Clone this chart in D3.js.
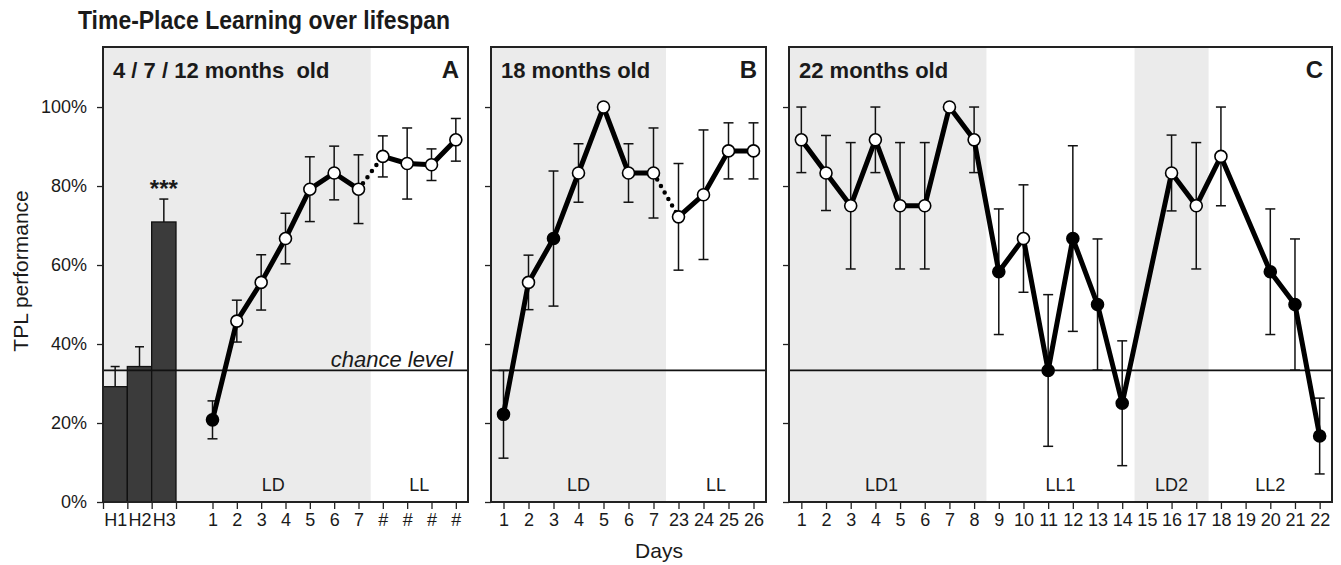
<html>
<head>
    <script src="https://d3js.org/d3.v7.min.js"></script>
    <style>
        body { margin: 0; background: #fff; }
        text { font-family: "Liberation Sans", Arial, sans-serif; fill: #1a1a1a; }
    </style>
</head>

<body>
    <svg id="chart"></svg>

    <script>
        var Width = 1341, Height = 565;

        // panel A: habituation bars
        var hourLabels = ["H1", "H2", "H3"];
        var hourMeans  = [29.2, 34.3, 70.9];
        var hourErr    = [5.1, 5.0, 5.8];

        // panel A: days (4/7/12 months)
        var aDays   = ["1", "2", "3", "4", "5", "6", "7", "#", "#", "#", "#"];
        var aMeans  = [20.8, 45.8, 55.6, 66.7, 79.2, 83.3, 79.2, 87.5, 85.7, 85.4, 91.7];
        var aErr    = [4.8, 5.3, 7.0, 6.4, 8.2, 6.8, 8.7, 5.2, 9.0, 4.0, 5.4];
        var aFilled = [1, 0, 0, 0, 0, 0, 0, 0, 0, 0, 0];

        // panel B: 18 months
        var bDays   = ["1", "2", "3", "4", "5", "6", "7", "23", "24", "25", "26"];
        var bMeans  = [22.2, 55.6, 66.7, 83.3, 100, 83.3, 83.3, 72.2, 77.8, 88.9, 88.9];
        var bErr    = [11.1, 6.9, 17.1, 7.4, 0, 7.4, 11.4, 13.5, 16.4, 7.1, 7.1];
        var bFilled = [1, 0, 1, 0, 0, 0, 0, 0, 0, 0, 0];

        // panel C: 22 months
        var cDays   = ["1","2","3","4","5","6","7","8","9","10","11","12","13","14","15","16","17","18","19","20","21","22"];
        var cMeans  = [91.7, 83.3, 75, 91.7, 75, 75, 100, 91.7, 58.3, 66.7, 33.3, 66.7, 50, 25, null, 83.3, 75, 87.5, null, 58.3, 50, 16.7];
        var cErr    = [8.3, 9.5, 16, 8.3, 16, 16, 0, 8.3, 15.9, 13.6, 19.2, 23.5, 16.6, 15.8, null, 9.6, 16, 12.5, null, 15.9, 16.6, 9.6];
        var cFilled = [0, 0, 0, 0, 0, 0, 0, 0, 1, 0, 1, 1, 1, 1, 0, 0, 0, 0, 0, 1, 1, 1];

        var yTicks = [0, 20, 40, 60, 80, 100];
        var chance = 100 / 3;

        var Top = 47, Bottom = 502;
        var y = d3.scaleLinear().domain([0, 115.2]).range([Bottom, Top]);

        var svg = d3.select("#chart").attr("width", Width).attr("height", Height);

        svg.append("text")
            .attr("x", 78).attr("y", 29)
            .attr("textLength", 372).attr("lengthAdjust", "spacingAndGlyphs")
            .style("font-size", "25px").style("font-weight", "bold")
            .text("Time-Place Learning over lifespan");

        svg.append("text")
            .attr("transform", "translate(28," + y(58.5) + ") rotate(-90)")
            .attr("text-anchor", "middle")
            .style("font-size", "21px")
            .text("TPL performance");

        svg.append("text")
            .attr("x", 659).attr("y", 558)
            .attr("text-anchor", "middle")
            .style("font-size", "21px")
            .text("Days");

        // slot offset: days in panel A start after the 3 bars and a gap
        var panels = [
            { x0: 103, x1: 468, slots: 15, off: 4, days: aDays, means: aMeans, err: aErr, filled: aFilled,
              breakAt: 7, title: "4 / 7 / 12 months  old", letter: "A", yLabels: true,
              phases: [ { name: "LD", from: -0.5, to: 10.5, at: 6.5, shade: true },
                        { name: "LL", from: 10.5, to: 14.5, at: 12.5, shade: false } ] },
            { x0: 491, x1: 766, slots: 11, off: 0, days: bDays, means: bMeans, err: bErr, filled: bFilled,
              breakAt: 7, title: "18 months old", letter: "B", yLabels: false,
              phases: [ { name: "LD", from: -0.5, to: 6.5, at: 3, shade: true },
                        { name: "LL", from: 6.5, to: 10.5, at: 8.5, shade: false } ] },
            { x0: 789, x1: 1332, slots: 22, off: 0, days: cDays, means: cMeans, err: cErr, filled: cFilled,
              breakAt: null, title: "22 months old", letter: "C", yLabels: false,
              phases: [ { name: "LD1", from: -0.5, to: 7.5, at: 3.25, shade: true },
                        { name: "LL1", from: 7.5, to: 13.5, at: 10.5, shade: false },
                        { name: "LD2", from: 13.5, to: 16.5, at: 15, shade: true },
                        { name: "LL2", from: 16.5, to: 21.5, at: 19, shade: false } ] }
        ];

        panels.forEach(function(p, pi) {
            var x = d3.scaleLinear().domain([-0.5, p.slots - 0.5]).range([p.x0, p.x1]);
            var g = svg.append("g");

            // phase shading
            g.selectAll(".shade")
                .data(p.phases.filter(function(d) { return d.shade; }))
                .enter().append("rect")
                    .attr("x", function(d) { return x(d.from); })
                    .attr("width", function(d) { return x(d.to) - x(d.from); })
                    .attr("y", Top).attr("height", Bottom - Top)
                    .attr("fill", "#ebebeb");

            g.selectAll(".phase")
                .data(p.phases)
                .enter().append("text")
                    .attr("x", function(d) { return x(d.at); })
                    .attr("y", 491)
                    .attr("text-anchor", "middle")
                    .style("font-size", "18px")
                    .text(function(d) { return d.name; });

            // y axis
            var yAxis = d3.axisLeft(y).tickValues(yTicks).tickSize(6).tickPadding(10)
                .tickFormat(p.yLabels ? function(d) { return d + "%"; } : "");
            var ya = g.append("g").attr("transform", "translate(" + p.x0 + ",0)").call(yAxis);
            ya.select(".domain").remove();
            ya.selectAll("line").attr("stroke", "#222").attr("stroke-width", 1.3);
            ya.selectAll("text").style("font-size", "18px").attr("fill", "#1a1a1a")
                .style("font-family", "Liberation Sans, Arial, sans-serif");

            // x axis tick marks
            var dayIdx = d3.range(p.days.length).map(function(i) { return i + p.off; });
            var markVals = (pi === 0 ? [-0.5, 0.5, 1.5, 2.5] : []).concat(dayIdx);
            var xMarks = g.append("g").attr("transform", "translate(0," + Bottom + ")")
                .call(d3.axisBottom(x).tickValues(markVals).tickSize(7).tickFormat(""));
            xMarks.select(".domain").remove();
            xMarks.selectAll("line").attr("stroke", "#222").attr("stroke-width", 1.3);

            // x axis labels
            var labelVals = (pi === 0 ? [0, 1, 2] : []).concat(dayIdx);
            var labelText = (pi === 0 ? hourLabels : []).concat(p.days);
            var xLab = g.append("g").attr("transform", "translate(0," + Bottom + ")")
                .call(d3.axisBottom(x).tickValues(labelVals).tickSize(0).tickPadding(11)
                    .tickFormat(function(d, i) { return labelText[i]; }));
            xLab.select(".domain").remove();
            xLab.selectAll("text").style("font-size", "18px").attr("fill", "#1a1a1a")
                .style("font-family", "Liberation Sans, Arial, sans-serif");

            // habituation bars
            if (pi === 0) {
                g.selectAll(".bar")
                    .data(hourMeans)
                    .enter().append("rect")
                        .attr("x", function(d, i) { return x(i - 0.5); })
                        .attr("width", x(0.5) - x(-0.5))
                        .attr("y", function(d) { return y(d); })
                        .attr("height", function(d) { return Bottom - y(d); })
                        .attr("fill", "#3b3b3b").attr("stroke", "#111").attr("stroke-width", 1.3);
                hourMeans.forEach(function(m, i) {
                    var cx = x(i);
                    g.append("line").attr("x1", cx).attr("x2", cx)
                        .attr("y1", y(m)).attr("y2", y(m + hourErr[i]))
                        .attr("stroke", "#111").attr("stroke-width", 1.5);
                    g.append("line").attr("x1", cx - 4.5).attr("x2", cx + 4.5)
                        .attr("y1", y(m + hourErr[i])).attr("y2", y(m + hourErr[i]))
                        .attr("stroke", "#111").attr("stroke-width", 1.5);
                });
                g.append("text")
                    .attr("x", x(2)).attr("y", y(77.3))
                    .attr("text-anchor", "middle")
                    .style("font-size", "24px").style("font-weight", "bold")
                    .text("***");
            }

            // chance level
            g.append("line")
                .attr("x1", p.x0).attr("x2", p.x1)
                .attr("y1", y(chance)).attr("y2", y(chance))
                .attr("stroke", "#111").attr("stroke-width", 1.6);
            if (pi === 0) {
                g.append("text")
                    .attr("x", 453).attr("y", y(chance) - 3)
                    .attr("text-anchor", "end")
                    .style("font-size", "22px").style("font-style", "italic")
                    .text("chance level");
            }

            var pts = p.means.map(function(m, i) {
                return { i: i + p.off, k: i, m: m, e: p.err[i], f: p.filled[i] };
            }).filter(function(d) { return d.m !== null; });

            // error bars
            var eb = g.selectAll(".err").data(pts.filter(function(d) { return d.e > 0; })).enter().append("g");
            eb.append("line")
                .attr("x1", function(d) { return x(d.i); }).attr("x2", function(d) { return x(d.i); })
                .attr("y1", function(d) { return y(d.m - d.e); }).attr("y2", function(d) { return y(d.m + d.e); })
                .attr("stroke", "#111").attr("stroke-width", 1.5);
            [-1, 1].forEach(function(s) {
                eb.append("line")
                    .attr("x1", function(d) { return x(d.i) - 5; }).attr("x2", function(d) { return x(d.i) + 5; })
                    .attr("y1", function(d) { return y(d.m + s * d.e); }).attr("y2", function(d) { return y(d.m + s * d.e); })
                    .attr("stroke", "#111").attr("stroke-width", 1.5);
            });

            // connecting lines
            var line = d3.line().x(function(d) { return x(d.i); }).y(function(d) { return y(d.m); });
            var segs = p.breakAt === null ? [pts] :
                [pts.filter(function(d) { return d.k < p.breakAt; }), pts.filter(function(d) { return d.k >= p.breakAt; })];
            segs.forEach(function(s) {
                g.append("path").attr("d", line(s))
                    .attr("fill", "none").attr("stroke", "#000")
                    .attr("stroke-width", 5).attr("stroke-linejoin", "round");
            });
            if (p.breakAt !== null) {
                var gap = [pts[p.breakAt - 1], pts[p.breakAt]];
                g.append("path").attr("d", line(gap))
                    .attr("fill", "none").attr("stroke", "#000")
                    .attr("stroke-width", 4.5).attr("stroke-linecap", "round")
                    .attr("stroke-dasharray", "0,7.5");
            }

            // points
            g.selectAll(".pt").data(pts).enter().append("circle")
                .attr("cx", function(d) { return x(d.i); })
                .attr("cy", function(d) { return y(d.m); })
                .attr("r", 6)
                .attr("fill", function(d) { return d.f ? "#000" : "#fff"; })
                .attr("stroke", "#000").attr("stroke-width", 1.6);

            // frame
            g.append("rect")
                .attr("x", p.x0).attr("y", Top)
                .attr("width", p.x1 - p.x0).attr("height", Bottom - Top)
                .attr("fill", "none").attr("stroke", "#222").attr("stroke-width", 2);

            g.append("text")
                .attr("x", p.x0 + 10).attr("y", 78)
                .style("font-size", "22px").style("font-weight", "bold")
                .style("white-space", "pre")
                .text(p.title);
            g.append("text")
                .attr("x", p.x1 - 9).attr("y", 78)
                .attr("text-anchor", "end")
                .style("font-size", "24px").style("font-weight", "bold")
                .text(p.letter);
        });
    </script>
</body>
</html>
